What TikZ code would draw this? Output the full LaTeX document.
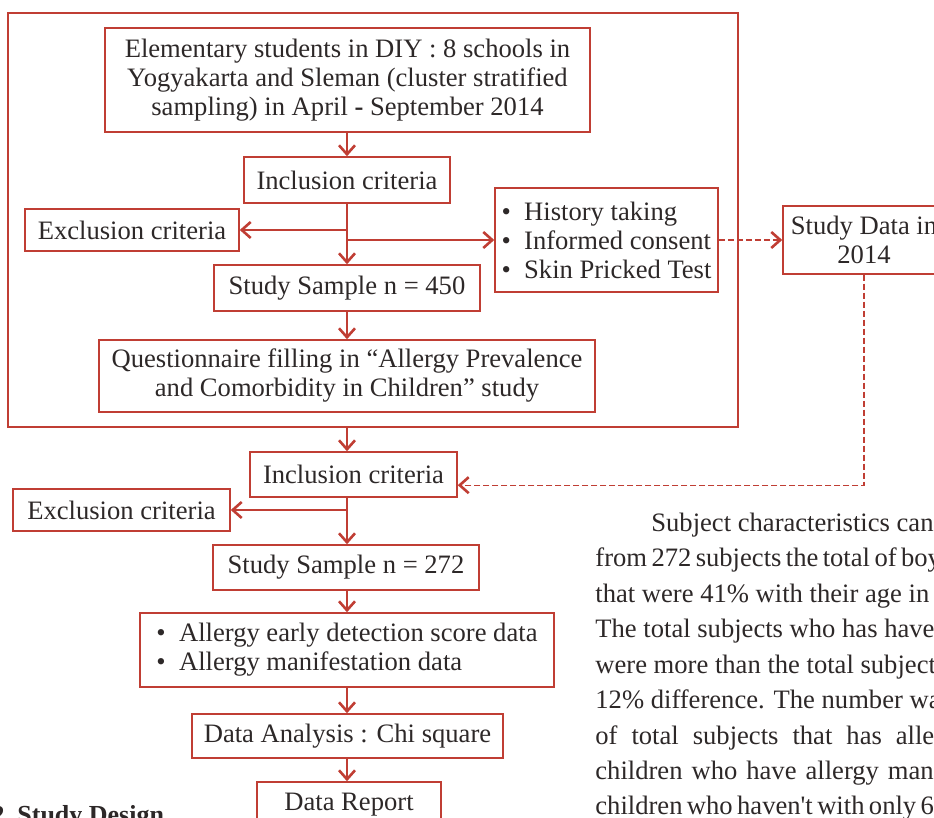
\documentclass[tikz,border=0pt]{standalone}
\usepackage{fontspec}
\setmainfont{Liberation Serif}
\newfontfamily\parafont{Liberation Serif}
\usetikzlibrary{arrows.meta, positioning, calc}

\definecolor{flowred}{RGB}{192,62,52}
\definecolor{ink}{RGB}{45,40,40}
\newcommand{\boxsize}{\fontsize{13.3}{14.5}\selectfont}
\newcommand{\parasize}{\parafont\fontsize{13.3}{16}\selectfont}

\begin{document}
\begin{tikzpicture}[x=0.5pt, y=-0.5pt,
        stage/.style={
            draw=flowred,
            line width=0.75pt,
            text=ink,
            font=\boxsize,
            align=center,
            inner sep=0pt
        },
        flow/.style={
            draw=flowred,
            line width=0.6pt,
            -{Straight Barb[length=4.5pt,width=8pt,line width=1.3pt]}
        },
        feed/.style={
            flow,
            dash pattern=on 3pt off 1.5pt
        },
        para/.style={
            anchor=base west,
            text=ink,
            font=\parasize,
            inner sep=0pt
        }
    ]
    \useasboundingbox (0,0) rectangle (934,818);
    \clip (0,0) rectangle (934,818);

    % first screening
    \node[stage, minimum width=365pt, minimum height=207pt] (frame) at (373,220) {};
    \node[stage, minimum width=242.5pt, minimum height=52pt] (pop) at (347.5,80)
        {Elementary students in DIY : 8 schools in\\Yogyakarta and Sleman (cluster stratified\\sampling) in April \textbf{-} September 2014};
    \node[stage, minimum width=103pt, minimum height=23pt] (inc1) at (347,180) {Inclusion criteria};
    \node[stage, minimum width=107pt, minimum height=21pt] (exc1) at (132,230) {Exclusion criteria};
    \node[stage, minimum width=111.5pt, minimum height=52pt, align=left] (exam) at (606.5,240)
        {•\enspace History taking\\•\enspace Informed consent\\•\enspace Skin Pricked Test};
    \node[stage, minimum width=81pt, minimum height=34pt] (data) at (864,240) {Study Data in\\2014};
    \node[stage, minimum width=133pt, minimum height=23pt] (s450) at (347,288) {Study Sample n = 450};
    \node[stage, minimum width=248pt, minimum height=36pt] (quest) at (347,376)
        {Questionnaire filling in “Allergy Prevalence\\and Comorbidity in Children” study};

    \draw[flow] (pop.south -| inc1) -- (inc1.north);
    \draw[flow] (inc1.south) -- (s450.north);
    \draw[flow] (inc1.south |- exc1.east) -- (exc1.east);
    \draw[flow] (inc1.south |- exam.west) -- (exam.west);
    \draw[feed] (exam.east) -- (data.west);
    \draw[flow] (s450.south) -- (quest.north);

    % second screening
    \node[stage, minimum width=103.5pt, minimum height=22.5pt] (inc2) at (353.5,474.5) {Inclusion criteria};
    \node[stage, minimum width=108.5pt, minimum height=21pt] (exc2) at (121.5,510) {Exclusion criteria};
    \node[stage, minimum width=133pt, minimum height=22.5pt] (s272) at (346,567.5) {Study Sample n = 272};
    \node[stage, minimum width=207pt, minimum height=37pt, align=left] (alg) at (347,650)
        {•\enspace Allergy early detection score data\\•\enspace Allergy manifestation data};
    \node[stage, minimum width=155.5pt, minimum height=22pt] (chi) at (347.5,736) {Data Analysis : Chi square};
    \node[stage, minimum width=92pt, minimum height=23pt] (rep) at (349,805) {Data Report};

    \draw[flow] (frame.south -| s450) -- (inc2.north -| s450);
    \draw[feed] (data.south) |- ($(inc2.south east)!0.27!(inc2.north east)$);
    \draw[flow] (s450 |- exc2.east) -- (exc2.east);
    \draw[flow] (inc2.south -| s450) -- (s272.north -| s450);
    \draw[flow] (s272.south -| s450) -- (alg.north -| s450);
    \draw[flow] (alg.south) -- (chi.north -| alg);
    \draw[flow] (chi.south -| alg) -- (rep.north -| alg);

    % caption and running text
    \node[anchor=base east, text=ink, font=\fontsize{13}{15}\selectfont\bfseries, inner sep=0pt] (fignum) at (5,824) {2};
    \node[anchor=base west, text=ink, font=\fontsize{13}{15}\selectfont\bfseries, inner sep=0pt] (cap) at (17,824) {Study Design};

    \node[para] (p1) at (651,532) {Subject characteristics can};
    \node[para] (p2) at (595,567) {\spaceskip=2.2pt from 272 subjects the total of boys};
    \node[para] (p3) at (595,603) {that were 41\% with their age in};
    \node[para] (p4) at (595,638) {The total subjects who has have};
    \node[para] (p5) at (595,674) {were more than the total subjects};
    \node[para] (p6) at (595,709) {12\% difference. The number was};
    \node[para] (p7) at (595,745) {\spaceskip=7pt of total subjects that has allergy};
    \node[para] (p8) at (595,780) {\spaceskip=4.5pt children who have allergy manifestation};
    \node[para] (p9) at (595,815) {\spaceskip=2.2pt children who haven't with only 6\%};
\end{tikzpicture}
\end{document}
